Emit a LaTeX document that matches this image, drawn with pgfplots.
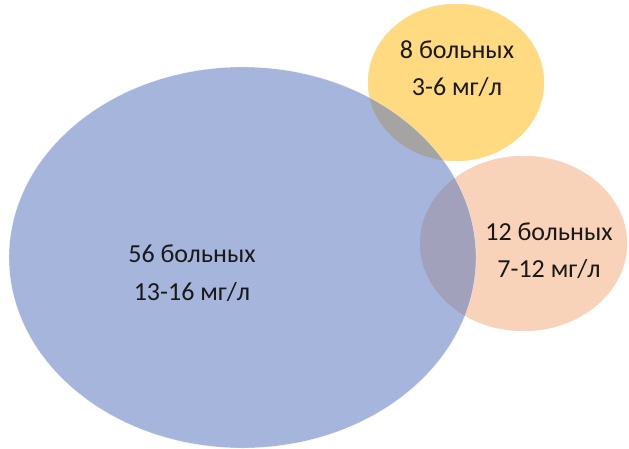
\documentclass[border=0pt]{standalone}
\usepackage{pgfplots}
\usepackage{pgfplotstable}
\pgfplotsset{compat=1.18}
\usepackage{fontspec}
\setmainfont{Carlito}

% base colours, blended at partial opacity
\definecolor{bubBlue}{RGB}{92,121,192}
\definecolor{bubYellow}{RGB}{255,218,128}
\definecolor{bubPeach}{RGB}{249,211,185}
\definecolor{labelText}{RGB}{25,25,25}

% centre (cx, cy) and half-axes (rx, ry) of each group, in picture units
\pgfplotstableread{
cx    cy    rx    ry
456.0 82.5  89.0  79.5
}\lowgroup
\pgfplotstableread{
cx    cy    rx    ry
523.5 243.5 104.5 88.5
}\midgroup
\pgfplotstableread{
cx    cy    rx    ry
242.5 257.5 233.5 190.5
}\highgroup

% ellipse-shaped marker whose half-axes come from the table
\pgfdeclareplotmark{bubble}{%
  \pgfpathellipse{\pgfpointorigin}{\pgfpoint{\rx pt}{0pt}}{\pgfpoint{0pt}{\ry pt}}%
  \pgfusepathqfillstroke}

\pgfplotsset{
  bubble/.style={
    scatter, only marks, mark=bubble,
    visualization depends on={\thisrow{rx}\as\rx},
    visualization depends on={\thisrow{ry}\as\ry},
    scatter/use mapped color={draw=white, fill=#1},
    mark options={line width=1.5pt},
  },
}

\begin{document}
\begin{tikzpicture}
\begin{axis}[
  x=1pt, y=1pt,
  xmin=0, xmax=629, ymin=0, ymax=448,
  y dir=reverse,
  hide axis,
  clip marker paths=true,
]
\addplot[bubble=bubYellow] table[x=cx, y=cy] {\lowgroup};
\addplot[bubble=bubPeach] table[x=cx, y=cy] {\midgroup};
\addplot[bubble=bubBlue, mark options={fill opacity=0.55, draw opacity=0.55}] table[x=cx, y=cy] {\highgroup};

\begin{scope}[every node/.style={anchor=base, text=labelText, font=\fontsize{26}{31}\selectfont, inner sep=0pt}]
\node at (axis cs:192,262) {56 больных};
\node at (axis cs:192,300) {13-16 мг/л};
\node at (axis cs:457,58) {8 больных};
\node at (axis cs:457,95) {3-6 мг/л};
\node at (axis cs:549,240) {12 больных};
\node at (axis cs:549,277) {7-12 мг/л};
\end{scope}
\end{axis}
\pgfresetboundingbox
\path (current axis.south west) rectangle (current axis.north east);
\end{tikzpicture}
\end{document}
